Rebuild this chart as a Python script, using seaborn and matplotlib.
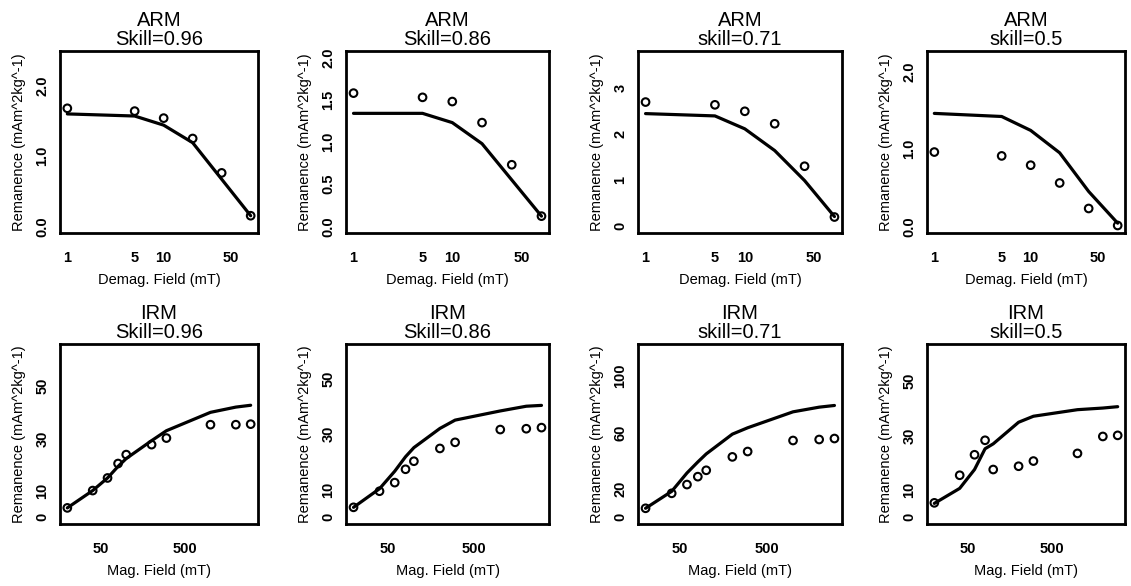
import numpy as np
import pandas as pd
import matplotlib
matplotlib.use("Agg")
import matplotlib.pyplot as plt
import seaborn as sns

# Demagnetisation / magnetising fields (mT)
arm_field = [1, 5, 10, 20, 40, 80]
irm_field = [20, 40, 60, 80, 100, 200, 300, 1000, 2000, 3000]

skill_labels = ["Skill=0.96", "Skill=0.86", "skill=0.71", "skill=0.5"]

# ARM: measured (points) and modelled (line), mAm^2kg^-1
arm_obs_1 = [1.68, 1.64, 1.54, 1.25, 0.76, 0.15]
arm_mod_1 = [1.60, 1.57, 1.44, 1.19, 0.67, 0.15]
arm_obs_2 = [1.58, 1.53, 1.48, 1.23, 0.73, 0.12]
arm_mod_2 = [1.34, 1.34, 1.23, 0.98, 0.55, 0.12]
arm_obs_3 = [2.69, 2.63, 2.49, 2.22, 1.30, 0.20]
arm_mod_3 = [2.44, 2.39, 2.11, 1.64, 0.99, 0.21]
arm_obs_4 = [0.96, 0.91, 0.79, 0.56, 0.23, 0.01]
arm_mod_4 = [1.46, 1.42, 1.24, 0.95, 0.45, 0.04]

# IRM acquisition: measured (points) and modelled (line)
irm_obs_1 = [3.6, 10.2, 15.0, 20.5, 23.9, 27.7, 30.2, 35.3, 35.3, 35.5]
irm_mod_1 = [3.6, 10.2, 15.0, 19.4, 22.4, 29.2, 33.0, 40.0, 42.0, 42.7]
irm_obs_2 = [3.6, 9.4, 12.5, 17.3, 20.2, 24.8, 27.0, 31.6, 31.9, 32.3]
irm_mod_2 = [3.6, 10.3, 16.6, 21.8, 25.1, 32.0, 35.0, 38.3, 40.0, 40.3]
irm_obs_3 = [6.4, 17.0, 23.2, 28.8, 33.3, 42.8, 46.6, 54.4, 55.1, 55.8]
irm_mod_3 = [6.4, 18.4, 31.4, 39.2, 44.9, 58.9, 63.4, 74.7, 78.0, 79.2]
irm_obs_4 = [5.3, 15.4, 22.9, 28.2, 17.5, 18.7, 20.6, 23.4, 29.6, 30.0]
irm_mod_4 = [5.1, 10.6, 17.5, 25.1, 26.9, 34.8, 37.0, 39.4, 40.0, 40.5]

arm_obs = [arm_obs_1, arm_obs_2, arm_obs_3, arm_obs_4]
arm_mod = [arm_mod_1, arm_mod_2, arm_mod_3, arm_mod_4]
irm_obs = [irm_obs_1, irm_obs_2, irm_obs_3, irm_obs_4]
irm_mod = [irm_mod_1, irm_mod_2, irm_mod_3, irm_mod_4]

# y-axis upper limits and tick sets
arm_ytop = [2.4, 2.0, 3.65, 2.18]
irm_ytop = [63.5, 60, 118, 61]
arm_yticks = [[0, 0.5, 1.0, 1.5, 2.0], [0, 0.5, 1.0, 1.5, 2.0], [0, 1, 2, 3], [0, 0.5, 1.0, 1.5, 2.0]]
arm_ylabels = [["0.0", "", "1.0", "", "2.0"], ["0.0", "0.5", "1.0", "1.5", "2.0"],
               ["0", "1", "2", "3"], ["0.0", "", "1.0", "", "2.0"]]
irm_yticks = [[0, 10, 20, 30, 40, 50, 60], [0, 10, 20, 30, 40, 50, 60],
              [0, 20, 40, 60, 80, 100], [0, 10, 20, 30, 40, 50, 60]]
irm_ylabels = [["0", "10", "", "30", "", "50", ""], ["0", "10", "", "30", "", "50", ""],
               ["0", "20", "", "60", "", "100"], ["0", "10", "", "30", "", "50", ""]]
arm_xticks = [1, 5, 10, 50]
arm_xlabels = ["1", "5", "10", "50"]
irm_xticks = [50, 100, 500, 1000]
irm_xlabels = ["50", "", "500", ""]

sns.set_style("white")
plt.rcParams["font.family"] = ["Liberation Sans", "DejaVu Sans"]
plt.rcParams["text.color"] = "black"
plt.rcParams["axes.labelcolor"] = "black"

W, H = 1131, 586
fig = plt.figure(figsize=(W / 100, H / 100), dpi=100)

col_left = [60, 346, 638, 927]
col_width = [198, 203, 204, 198]
row_top = [51, 344]
row_height = [182, 180]

ylab = "Remanence (mAm^2kg^-1)"


def log_limits(x):
    lo, hi = np.log10(min(x)), np.log10(max(x))
    pad = 0.04 * (hi - lo)
    return 10 ** (lo - pad), 10 ** (hi + pad)


def draw_panel(ax, x, obs, mod, ytop, yt, ytl, xt, xtl, title, xlabel):
    df = pd.DataFrame({"field": x, "obs": obs, "mod": mod})
    sns.lineplot(data=df, x="field", y="mod", ax=ax, color="black", linewidth=2.3,
                 sort=False)
    sns.scatterplot(data=df, x="field", y="obs", ax=ax, marker="o", s=30,
                    facecolor="none", edgecolor="black", linewidth=1.5, zorder=3)
    ax.set_xscale("log")
    ax.set_xlim(*log_limits(x))
    pad = 0.04 * ytop
    ax.set_ylim(-pad, ytop + pad)
    ax.set_xticks(xt)
    ax.set_xticklabels(xtl)
    ax.xaxis.set_minor_locator(matplotlib.ticker.NullLocator())
    ax.set_yticks(yt)
    ax.set_yticklabels(ytl, rotation=90, va="center")
    ax.tick_params(axis="both", direction="out", length=3, width=1.3, color="black",
                   labelsize=10.5, labelcolor="black")
    ax.tick_params(axis="x", pad=10)
    ax.tick_params(axis="y", pad=4.5)
    for lab in ax.get_xticklabels() + ax.get_yticklabels():
        lab.set_fontweight("bold")
    for sp in ax.spines.values():
        sp.set_linewidth(2.0)
        sp.set_color("black")
    ax.set_title(title, fontsize=14.5, pad=4, linespacing=1.05, color="black")
    ax.set_xlabel(xlabel, fontsize=10.5, labelpad=6)
    ax.set_ylabel(ylab, fontsize=10.5, labelpad=7)


for c in range(4):
    for r in range(2):
        rect = [col_left[c] / W, 1 - (row_top[r] + row_height[r]) / H,
                col_width[c] / W, row_height[r] / H]
        ax = fig.add_axes(rect)
        if r == 0:
            draw_panel(ax, arm_field, arm_obs[c], arm_mod[c], arm_ytop[c],
                       arm_yticks[c], arm_ylabels[c], arm_xticks, arm_xlabels,
                       "ARM\n" + skill_labels[c], "Demag. Field (mT)")
        else:
            draw_panel(ax, irm_field, irm_obs[c], irm_mod[c], irm_ytop[c],
                       irm_yticks[c], irm_ylabels[c], irm_xticks, irm_xlabels,
                       "IRM\n" + skill_labels[c], "Mag. Field (mT)")

fig.savefig("out.png", dpi=100)
